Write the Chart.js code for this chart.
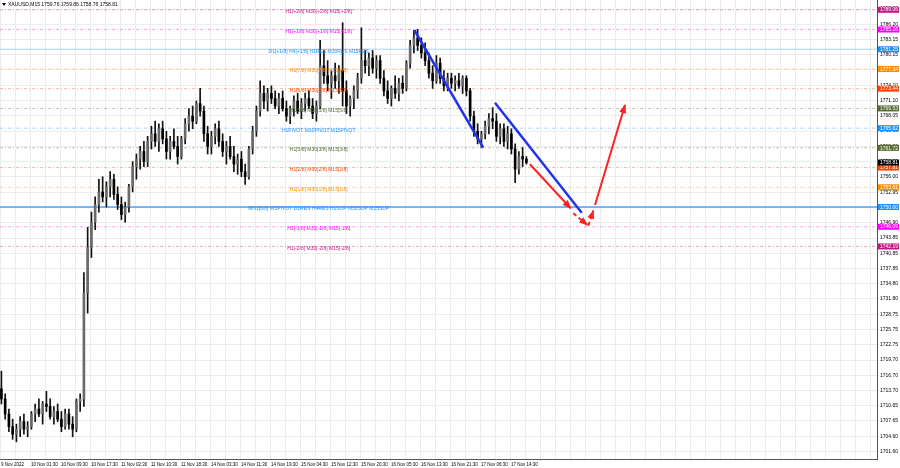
<!DOCTYPE html>
<html>
<head>
<meta charset="utf-8">
<script src="https://cdn.jsdelivr.net/npm/chart.js@4.4.0/dist/chart.umd.min.js"></script>
<style>
  html, body { margin: 0; padding: 0; background: #fff; overflow: hidden; }
</style>
</head>
<body>
<canvas id="chart" width="900" height="468"></canvas>
<script>
// XAUUSD M15, 9-17 Nov 2022
const symbol = 'XAUUSD,M15';
const lastBar = [1759.76, 1759.86, 1758.76, 1758.81];

const opens = [
  1714, 1712, 1709, 1706.5, 1705, 1706, 1707.5, 1706, 1706.5, 1709, 1710, 1709, 1711, 1710.5, 1708.5, 1709.5, 1708, 1706.5, 1709, 1707,
  1706, 1711.5, 1712, 1733, 1742, 1747, 1750.5, 1753, 1752, 1754, 1755.5, 1752.5, 1750.5, 1748.5, 1750, 1754, 1758, 1759.5, 1761, 1759,
  1763, 1764.5, 1763, 1765.5, 1763.5, 1761, 1763, 1762, 1760, 1763.5, 1766.5, 1768, 1767, 1770.5, 1769, 1764.5, 1762, 1764, 1765.5, 1763,
  1761, 1762, 1760, 1758.5, 1759.5, 1757, 1756, 1761.5, 1765, 1769, 1772.5, 1771, 1772.5, 1771.5, 1770, 1771.5, 1769.5, 1768, 1769.5, 1771,
  1769, 1770.5, 1771.5, 1770, 1768.5, 1770, 1778, 1776, 1774.5, 1776, 1775, 1777, 1773, 1770, 1771.5, 1773, 1775.5, 1779, 1778, 1779.5,
  1777.5, 1779, 1775.5, 1773, 1771.5, 1773.5, 1772.5, 1774.5, 1773.5, 1778.5, 1782, 1783.5, 1782, 1780.5, 1779, 1776.5, 1775, 1778.5, 1775.5, 1774,
  1775.5, 1774.5, 1775, 1774, 1775.5, 1773, 1768, 1765, 1763.5, 1764.5, 1766, 1767.5, 1767, 1764, 1765.5, 1763, 1764.5, 1761.5, 1757.5, 1760,
  1759.5
];
const highs = [
  1717.5, 1713, 1710, 1708, 1707, 1708.5, 1709, 1707.5, 1709.5, 1711, 1712, 1711.5, 1713.5, 1712, 1710.5, 1711, 1709.5, 1710, 1710, 1708.5,
  1712, 1713, 1737, 1746, 1749, 1752, 1755.5, 1756, 1755, 1757, 1756.5, 1754, 1752, 1751, 1754.5, 1759, 1760.5, 1762, 1763, 1764,
  1766, 1767, 1766.5, 1767, 1765, 1764, 1765.5, 1764, 1764, 1767.5, 1769.5, 1770, 1771, 1773.5, 1770, 1766, 1765, 1766.5, 1767, 1764.5,
  1763, 1764, 1762, 1760.5, 1761, 1758.5, 1762, 1766, 1770, 1775, 1774, 1773.5, 1774, 1773, 1772.5, 1773, 1771, 1770, 1772, 1772.5,
  1771.5, 1772.5, 1773, 1771.5, 1771, 1783, 1781, 1779, 1777, 1778.5, 1778, 1786.5, 1775, 1772, 1774, 1776.5, 1785.5, 1781, 1780.5, 1781,
  1780, 1780, 1777, 1775, 1774, 1776, 1775.5, 1776, 1779, 1783, 1785, 1785.2, 1783.5, 1782.5, 1780.5, 1778, 1780, 1779.5, 1777, 1776.5,
  1776.5, 1776, 1776.5, 1776, 1776, 1773.5, 1769, 1766.5, 1765, 1767, 1768.5, 1769.7, 1768.5, 1766.5, 1766.5, 1766, 1765.5, 1762.5, 1761, 1761.8,
  1760
];
const lows = [
  1711, 1708, 1705.5, 1704, 1703.5, 1704.5, 1705, 1704.5, 1706, 1707.5, 1708.5, 1707, 1709.5, 1708, 1707, 1707.5, 1705.5, 1706, 1706, 1704.5,
  1705.5, 1709.5, 1710.5, 1729, 1740, 1745.5, 1749, 1751, 1750, 1752, 1751.5, 1749.5, 1747.5, 1747, 1749, 1753, 1755.5, 1757.5, 1758, 1758,
  1761.5, 1762, 1761, 1762.5, 1759.5, 1759.5, 1761.5, 1758.5, 1759.5, 1762.5, 1765, 1765.5, 1766.5, 1768, 1763, 1760.5, 1760.5, 1762.5, 1762, 1760,
  1758.5, 1759.5, 1757, 1756.5, 1756, 1754.5, 1755.5, 1760.5, 1764, 1768, 1769.5, 1769, 1770.5, 1769.5, 1768.5, 1769, 1767, 1766.5, 1768, 1768.5,
  1767.5, 1769, 1769.5, 1767.5, 1767, 1769.5, 1774.5, 1773, 1771.5, 1773.5, 1772.5, 1770, 1768.5, 1768, 1769.5, 1771.5, 1774.5, 1776.5, 1776, 1776.5,
  1775.5, 1774.5, 1772, 1770.5, 1770, 1771.5, 1771, 1772.5, 1773, 1777.5, 1780.5, 1781, 1779.5, 1778, 1775.5, 1773.5, 1774.5, 1774.5, 1773, 1773,
  1773.5, 1773, 1773.5, 1772.5, 1772, 1767, 1764, 1762.5, 1761.8, 1763.5, 1764.5, 1765.5, 1763, 1762.5, 1762, 1761.5, 1760.5, 1754.8, 1756.5, 1758,
  1758.5
];
const closes = [
  1712, 1709, 1706.5, 1705, 1706, 1707.5, 1706, 1706.5, 1709, 1710, 1709, 1711, 1710.5, 1708.5, 1709.5, 1708, 1706.5, 1709, 1707, 1706,
  1711.5, 1712, 1733, 1742, 1747, 1750.5, 1753, 1752, 1754, 1755.5, 1752.5, 1750.5, 1748.5, 1750, 1754, 1758, 1759.5, 1761, 1759, 1763,
  1764.5, 1763, 1765.5, 1763.5, 1761, 1763, 1762, 1760, 1763.5, 1766.5, 1768, 1767, 1770.5, 1769, 1764.5, 1762, 1764, 1765.5, 1763, 1761,
  1762, 1760, 1758.5, 1759.5, 1757, 1756, 1761.5, 1765, 1769, 1772.5, 1771, 1772.5, 1771.5, 1770, 1771.5, 1769.5, 1768, 1769.5, 1771, 1769,
  1770.5, 1771.5, 1770, 1768.5, 1770, 1778, 1776, 1774.5, 1776, 1775, 1777, 1773, 1770, 1771.5, 1773, 1775.5, 1779, 1778, 1779.5, 1777.5,
  1779, 1775.5, 1773, 1771.5, 1773.5, 1772.5, 1774.5, 1773.5, 1778.5, 1782, 1783.5, 1782, 1780.5, 1779, 1776.5, 1775, 1778.5, 1775.5, 1774, 1775.5,
  1774.5, 1775, 1774, 1775.5, 1773, 1768, 1765, 1763.5, 1764.5, 1766, 1767.5, 1767, 1764, 1765.5, 1763, 1764.5, 1761.5, 1757.5, 1760, 1759.5,
  1758.81
];

// Murrey levels shown on the chart
const levelPrices = [1789.06, 1785.16, 1781.25, 1777.34, 1773.44, 1769.53, 1765.62, 1761.72, 1757.81, 1753.91, 1750.00, 1746.09, 1742.19];
const levelNames = [
  'H1[+2/8] M30[+2/8] M15[+2/8]',
  'H1[+1/8] M30[+1/8] M15[+1/8]',
  'D1[+1/8] H4[+1/8] H1RES M30RES M15RES',
  'H1[7/8] M30[7/8] M15[7/8]',
  'H1[6/8] M30[6/8] M15[6/8]',
  'H1[5/8] M30[5/8] M15[5/8]',
  'H1PIVOT M30PIVOT M15PIVOT',
  'H1[3/8] M30[3/8] M15[3/8]',
  'H1[2/8] M30[2/8] M15[2/8]',
  'H1[1/8] M30[1/8] M15[1/8]',
  'MN1[6/8] W1PIVOT D1RES H4RES H1SUP M30SUP M15SUP',
  'H1[-1/8] M30[-1/8] M15[-1/8]',
  'H1[-2/8] M30[-2/8] M15[-2/8]'
];

// drawn forecast lines, [bar index, price]
const blueLine1 = [[441.9, 1785.06], [515.5, 1761.75]];
const blueLine2 = [[528, 1770.66], [620.5, 1748.88]];
const redArrow1 = [[565.3, 1758.47], [608.7, 1749.75]];
const redDash1 = [[611.5, 1748.76], [626.5, 1746.45]];
const redDash2 = [[627.5, 1746.3], [632.9, 1749.28]];
const redArrow2 = [[634.7, 1750.4], [666.7, 1770.2]];

const priceTicks = [1701.60, 1704.60, 1707.65, 1710.65, 1713.70, 1716.70, 1719.70, 1722.75, 1725.75, 1728.75,
  1731.80, 1734.80, 1737.85, 1740.85, 1743.85, 1746.90, 1749.95, 1752.95, 1756.00, 1759.00, 1762.00, 1765.05,
  1768.05, 1771.10, 1774.10, 1777.15, 1780.15, 1783.15, 1786.20, 1789.20];
const timeLabels = ['9 Nov 2022', '10 Nov 01:30', '10 Nov 09:30', '10 Nov 17:30', '11 Nov 02:30', '11 Nov 10:30',
  '11 Nov 18:30', '14 Nov 03:30', '14 Nov 11:30', '14 Nov 19:30', '15 Nov 04:30', '15 Nov 12:30', '15 Nov 20:30',
  '16 Nov 05:30', '16 Nov 13:30', '16 Nov 21:30', '17 Nov 06:30', '17 Nov 14:30'];

// styles
const FONT = '"Liberation Sans", Arial, sans-serif';
const levelColors = ['#c71585', '#ff00ff', '#1e90ff', '#ff8c00', '#ff4500', '#556b2f', '#1e90ff',
  '#556b2f', '#ff4500', '#ff8c00', '#1e90ff', '#ff00ff', '#c71585'];
const levelSolid = [false, false, true, false, false, false, false, false, false, false, true, false, false];
const X_MAX = 935.5;
const LABEL_AT = 340;

const barX = i => i * 4 + 1.5;  // one hourly candle = 4 M15 bars

const levelDatasets = levelPrices.map((p, i) => ({
  type: 'line',
  data: [{ x: 0, y: p }, { x: X_MAX, y: p }],
  borderColor: levelColors[i] + (levelSolid[i] ? (i === 10 ? 'cc' : '66') : '66'),
  borderWidth: levelSolid[i] && i === 10 ? 1.5 : 1,
  borderDash: levelSolid[i] ? [] : [3, 2, 1, 2],
  pointRadius: 0,
  order: 5
}));

function segment(pts, color, width, dashed, arrow) {
  return {
    type: 'line',
    data: pts.map(p => ({ x: p[0], y: p[1] })),
    borderColor: color,
    borderWidth: width,
    borderDash: dashed ? [4, 3] : [],
    pointRadius: 0,
    arrow: arrow,
    order: 0
  };
}

const wicks = {
  type: 'bar',
  data: highs.map((h, i) => ({ x: barX(i), y: [lows[i], h] })),
  backgroundColor: '#111',
  barThickness: 1,
  grouped: false,
  order: 2
};
const bodies = {
  type: 'bar',
  data: opens.map((o, i) => ({ x: barX(i), y: [o, closes[i]] })),
  backgroundColor: opens.map((o, i) => closes[i] >= o ? '#6a6a6a' : '#000'),
  barThickness: 2,
  minBarLength: 1,
  grouped: false,
  order: 1
};

const mt4Overlay = {
  id: 'mt4Overlay',
  afterDatasetsDraw(chart) {
    const { ctx, scales: { x, y } } = chart;
    ctx.save();
    // arrow heads
    chart.data.datasets.forEach((ds, i) => {
      if (!ds.arrow) return;
      const pts = chart.getDatasetMeta(i).data;
      const a = pts[pts.length - 2], b = pts[pts.length - 1];
      const ang = Math.atan2(b.y - a.y, b.x - a.x);
      ctx.save();
      ctx.translate(b.x, b.y);
      ctx.rotate(ang);
      ctx.beginPath();
      ctx.moveTo(1, 0);
      ctx.lineTo(-8, -3.5);
      ctx.lineTo(-8, 3.5);
      ctx.closePath();
      ctx.fillStyle = ds.borderColor;
      ctx.fill();
      ctx.restore();
    });
    // level captions
    ctx.font = '5px ' + FONT;
    ctx.textAlign = 'center';
    ctx.textBaseline = 'middle';
    levelPrices.forEach((p, i) => {
      ctx.fillStyle = levelColors[i];
      ctx.fillText(levelNames[i], x.getPixelForValue(LABEL_AT), y.getPixelForValue(p) + 2);
    });
    ctx.restore();
  },
  afterDraw(chart) {
    const { ctx, chartArea, scales: { y } } = chart;
    ctx.save();
    ctx.font = '5px ' + FONT;
    ctx.textBaseline = 'middle';
    ctx.textAlign = 'left';
    const box = (p, color) => {
      const py = y.getPixelForValue(p);
      ctx.fillStyle = color;
      ctx.fillRect(chartArea.right + 1, py - 3, 21, 6);
      ctx.fillStyle = '#fff';
      ctx.fillText(p.toFixed(2), chartArea.right + 3, py + 0.3);
    };
    levelPrices.forEach((p, i) => box(p, levelColors[i]));
    box(lastBar[3], '#000');
    // header
    ctx.fillStyle = '#000';
    ctx.beginPath();
    ctx.moveTo(2, 3); ctx.lineTo(6, 3); ctx.lineTo(4, 6); ctx.closePath();
    ctx.fill();
    ctx.fillText(symbol + ' ' + lastBar.map(v => v.toFixed(2)).join(' '), 8, 4.5);
    ctx.restore();
  }
};

new Chart(document.getElementById('chart'), {
  type: 'bar',
  data: {
    datasets: [
      ...levelDatasets,
      wicks,
      bodies,
      segment(blueLine1, '#2233ee', 2.5, false, false),
      segment(blueLine2, '#2233ee', 2.5, false, false),
      segment(redArrow1, '#ff2020', 2, false, true),
      segment(redDash1, '#ff2020', 2, true, true),
      segment(redDash2, '#ff2020', 2, true, true),
      segment(redArrow2, '#ff2020', 2, false, true)
    ]
  },
  options: {
    responsive: false,
    animation: false,
    devicePixelRatio: 1,
    layout: { padding: 0 },
    plugins: { legend: { display: false }, tooltip: { enabled: false } },
    scales: {
      x: {
        type: 'linear',
        min: 0,
        max: X_MAX,
        offset: false,
        grid: { color: '#ececec', offset: false, tickLength: 2 },
        border: { display: true, color: '#555' },
        afterBuildTicks(scale) {
          const t = [];
          for (let k = 0; k * 16 + 1 < X_MAX; k++) t.push({ value: k * 16 + 1 });
          scale.ticks = t;
        },
        afterFit(scale) {
          scale.height = 9;
          scale.paddingLeft = 0;
          scale.paddingRight = 0;
        },
        ticks: {
          autoSkip: false,
          maxRotation: 0,
          minRotation: 0,
          align: 'start',
          padding: 1,
          color: '#000',
          font: { family: FONT, size: 4.5 },
          callback(value) {
            const k = Math.round((value - 1) / 16);
            return k % 2 === 0 && timeLabels[k / 2] ? timeLabels[k / 2] : '';
          }
        }
      },
      y: {
        position: 'right',
        min: 1700.1,
        max: 1791,
        grid: { color: '#ececec', tickLength: 2 },
        border: { display: true, color: '#555' },
        afterBuildTicks(scale) {
          scale.ticks = priceTicks.map(v => ({ value: v }));
        },
        afterFit(scale) {
          scale.width = 23;
          scale.paddingTop = 0;
          scale.paddingBottom = 0;
        },
        ticks: {
          padding: 1,
          color: '#000',
          font: { family: FONT, size: 5 },
          callback: v => v.toFixed(2)
        }
      }
    }
  },
  plugins: [mt4Overlay]
});
</script>
</body>
</html>
